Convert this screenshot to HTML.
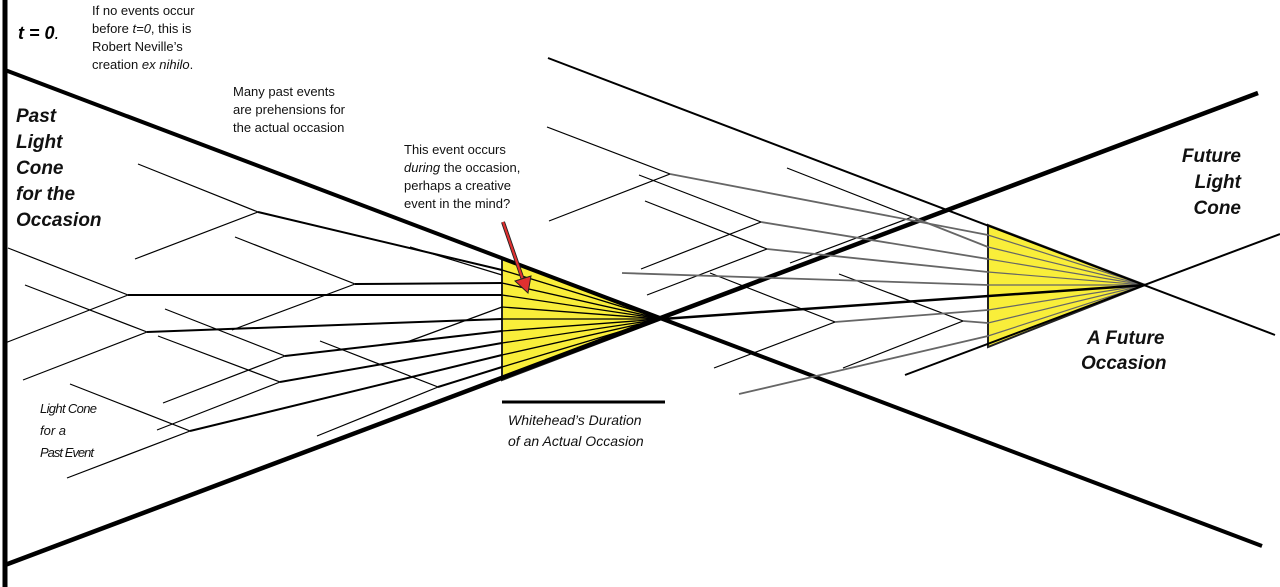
<!DOCTYPE html>
<html><head><meta charset="utf-8"><style>
html,body{margin:0;padding:0;background:#fff;}
svg{display:block;}
text{font-family:"Liberation Sans",sans-serif;}
</style></head><body>
<svg width="1280" height="587" viewBox="0 0 1280 587" xmlns="http://www.w3.org/2000/svg">
<!-- yellow triangles -->
<polygon points="502,258 662,319 502,380" fill="#f9ee3a" stroke="#222" stroke-width="2"/>
<polygon points="988,225 1145,285 988,347" fill="#f9ee3a" stroke="#222" stroke-width="2"/>
<!-- fan lines past -->
<g stroke="#000" stroke-width="1.3">
<line x1="502" y1="270" x2="662" y2="319"/><line x1="502" y1="283" x2="662" y2="319"/>
<line x1="502" y1="295" x2="662" y2="319"/><line x1="502" y1="307" x2="662" y2="319"/>
<line x1="502" y1="319" x2="662" y2="319"/><line x1="502" y1="331" x2="662" y2="319"/>
<line x1="502" y1="343" x2="662" y2="319"/><line x1="502" y1="355" x2="662" y2="319"/>
<line x1="502" y1="367" x2="662" y2="319"/>
</g>
<!-- fan lines future -->
<g stroke="#666" stroke-width="1.2">
<line x1="988" y1="235" x2="1145" y2="285"/><line x1="988" y1="247" x2="1145" y2="285"/>
<line x1="988" y1="259" x2="1145" y2="285"/><line x1="988" y1="272" x2="1145" y2="285"/>
<line x1="988" y1="285" x2="1145" y2="285"/><line x1="988" y1="310" x2="1145" y2="285"/>
<line x1="988" y1="323" x2="1145" y2="285"/><line x1="988" y1="336" x2="1145" y2="285"/>
</g>
<!-- main lines -->
<g stroke="#000" stroke-linecap="butt">
<line x1="5" y1="0" x2="5" y2="587" stroke-width="5"/>
<line x1="5" y1="70" x2="1262" y2="546" stroke-width="4"/>
<line x1="5" y1="565" x2="1258" y2="93" stroke-width="4.5"/>
<line x1="548" y1="58" x2="1275" y2="335" stroke-width="2"/>
<line x1="905" y1="375" x2="1280" y2="234" stroke-width="2"/>
<line x1="662" y1="319" x2="1145" y2="285" stroke-width="2.5"/>
<line x1="502" y1="402" x2="665" y2="402" stroke-width="3"/>
</g>
<!-- past events -->
<g stroke="#000" stroke-width="1.2" fill="none">
<polyline points="138,164 258,212 135,259"/>
<polyline points="8,248 128,295 5,343"/>
<polyline points="235,237 355,284 232,330"/>
<polyline points="25,285 147,332 23,380"/>
<polyline points="165,309 285,356 163,403"/>
<polyline points="158,336 280,382 157,430"/>
<polyline points="70,384 190,431 67,478"/>
<polyline points="320,341 438,387 317,436"/>
<line x1="410" y1="247" x2="502" y2="275"/>
<line x1="407" y1="342" x2="502" y2="307"/>
</g>
<g stroke="#000" stroke-width="2">
<line x1="258" y1="212" x2="502" y2="270"/>
<line x1="128" y1="295" x2="502" y2="295"/>
<line x1="355" y1="284" x2="502" y2="283"/>
<line x1="147" y1="332" x2="502" y2="319"/>
<line x1="285" y1="356" x2="502" y2="331"/>
<line x1="280" y1="382" x2="502" y2="343"/>
<line x1="190" y1="431" x2="502" y2="355"/>
<line x1="438" y1="387" x2="502" y2="367"/>
</g>
<!-- future events -->
<g stroke="#000" stroke-width="1.2" fill="none">
<polyline points="547,127 670,174 549,221"/>
<polyline points="639,175 761,222 641,269"/>
<polyline points="645,201 767,249 647,295"/>
<polyline points="787,168 912,217 790,263"/>
<polyline points="710,273 835,322 714,368"/>
<polyline points="839,274 963,321 843,368"/>
</g>
<g stroke="#666" stroke-width="1.8">
<line x1="670" y1="174" x2="988" y2="235"/>
<line x1="761" y1="222" x2="988" y2="259"/>
<line x1="767" y1="249" x2="988" y2="272"/>
<line x1="622" y1="273" x2="988" y2="285"/>
<line x1="912" y1="217" x2="988" y2="247"/>
<line x1="835" y1="322" x2="988" y2="310"/>
<line x1="963" y1="321" x2="988" y2="323"/>
<line x1="739" y1="394" x2="988" y2="336"/>
</g>
<!-- red arrow -->
<line x1="503" y1="222" x2="523" y2="280" stroke="#222" stroke-width="4"/>
<line x1="503" y1="222" x2="523" y2="280" stroke="#e03030" stroke-width="2.2"/>
<polygon points="515,281 531,276 528,293" fill="#e03030" stroke="#222" stroke-width="1"/>
<!-- texts -->
<text x="18" y="39" font-size="18" font-weight="bold" font-style="italic">t = 0<tspan font-weight="normal">.</tspan></text>
<g font-size="13" fill="#111">
<text x="92" y="15">If no events occur</text>
<text x="92" y="33">before <tspan font-style="italic">t=0</tspan>, this is</text>
<text x="92" y="51">Robert Neville’s</text>
<text x="92" y="69">creation <tspan font-style="italic">ex nihilo</tspan>.</text>
<text x="233" y="96">Many past events</text>
<text x="233" y="114">are prehensions for</text>
<text x="233" y="132">the actual occasion</text>
<text x="404" y="154">This event occurs</text>
<text x="404" y="172"><tspan font-style="italic">during</tspan> the occasion,</text>
<text x="404" y="190">perhaps a creative</text>
<text x="404" y="208">event in the mind?</text>
</g>
<g font-size="19" font-weight="bold" font-style="italic" fill="#111">
<text x="16" y="122">Past</text>
<text x="16" y="148">Light</text>
<text x="16" y="174">Cone</text>
<text x="16" y="200">for the</text>
<text x="16" y="226">Occasion</text>
<text x="1241" y="162" text-anchor="end">Future</text>
<text x="1241" y="188" text-anchor="end">Light</text>
<text x="1241" y="214" text-anchor="end">Cone</text>
<text x="1087" y="344">A Future</text>
<text x="1081" y="369">Occasion</text>
</g>
<g font-size="13" font-style="italic" fill="#111">
<text x="40" y="413" textLength="57">Light Cone</text>
<text x="40" y="435">for a</text>
<text x="40" y="457" textLength="54">Past Event</text>
</g>
<g font-size="14" font-style="italic" fill="#111">
<text x="508" y="425">Whitehead’s Duration</text>
<text x="508" y="446">of an Actual Occasion</text>
</g>
</svg>
</body></html>
